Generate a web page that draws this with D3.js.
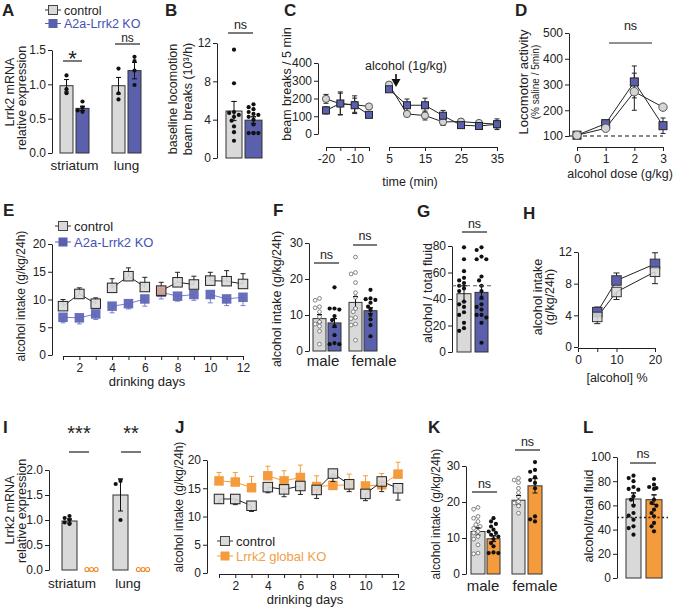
<!DOCTYPE html>
<html><head><meta charset="utf-8">
<script src="https://cdn.jsdelivr.net/npm/d3@7"></script>
<style>body{margin:0;background:#fff}svg{display:block}</style>
</head><body>
<script>
// ================= DATA =================
// Panel A
const aCats = ["striatum", "lung"];
const aCtrlMean = [0.98, 0.98], aCtrlSem = [0.09, 0.12];
const aKoMean = [0.65, 1.2], aKoSem = [0.03, 0.12];
const aCtrlPts = [[1.13, 0.93, 0.87], [1.23, 0.87, 0.78]];
const aKoPts = [[0.75, 0.66, 0.62, 0.6], [1.40, 1.34, 1.2, 0.99]];
const aTicks = [0, 0.5, 1.0, 1.5];
// Panel B
const bCtrlMean = 4.9, bCtrlSem = 1.0, bKoMean = 3.95, bKoSem = 0.35;
const bCtrlPts = [11.3, 7.8, 4.8, 4.7, 4.5, 4.3, 3.9, 3.3, 2.7, 1.8];
const bKoPts = [5.6, 5.3, 5.1, 4.8, 4.6, 4.5, 4.3, 4.0, 3.5, 2.6, 2.6, 2.6, 2.6];
const bTicks = [0, 4, 8, 12];
// Panel C
const cPreT = [-20, -15, -10, -5], cPostT = [5, 10, 15, 20, 25, 30, 35];
const cCtrlPre = [198, 170, 165, 155], cCtrlPreErr = [25, 60, 50, 10];
const cKoPre = [133, 172, 162, 108], cKoPreErr = [20, 65, 40, 10];
const cCtrlPost = [278, 113, 104, 68, 70, 62, 55], cCtrlPostErr = [10, 15, 25, 20, 10, 10, 20];
const cKoPost = [252, 162, 162, 103, 50, 45, 55], cKoPostErr = [10, 35, 40, 30, 15, 15, 30];
const cTicks = [0, 100, 200, 300, 400];
// Panel D
const dDose = [0, 1, 2, 3];
const dCtrl = [103, 130, 272, 212], dCtrlErr = [0, 8, 72, 10];
const dKo = [103, 148, 310, 140], dKoErr = [0, 10, 62, 30];
const dTicks = [100, 200, 300, 400, 500];
// Panel E
const eDays = [1, 2, 3, 4, 5, 6, 7, 8, 9, 10, 11, 12];
const eCtrl = [8.8, 11.0, 9.25, 12.1, 14.2, 12.25, 11.6, 13.1, 12.7, 13.4, 13.3, 12.8];
const eCtrlErr = [1.2, 1.1, 1.05, 1.65, 1.5, 1.75, 1.5, 1.8, 1.5, 1.5, 1.9, 1.85];
const eKo = [6.8, 6.7, 7.4, 8.8, 9.25, 10.1, 11.3, 10.6, 10.9, 10.9, 10.1, 10.4];
const eKoErr = [1.0, 1.1, 1.0, 1.2, 0.95, 1.3, 1.2, 0.9, 1.05, 1.5, 1.2, 1.5];
const eTicks = [0, 5, 10, 15, 20];
// Panel F
const fCats = ["male", "female"];
const fCtrlMean = [9.0, 13.5], fCtrlSem = [1.1, 1.6];
const fKoMean = [7.8, 11.2], fKoSem = [1.2, 0.8];
const fCtrlPts = [[14.6, 14.1, 12.3, 12.0, 10.9, 9.5, 8.1, 7.5, 6.9, 5.5, 1.9],
                  [26.1, 21.8, 21.4, 19.0, 16.2, 14.9, 11.8, 10.9, 9.3, 9.0, 7.5, 7.2, 3.0]];
const fKoPts = [[17.7, 11.8, 11.8, 11.5, 9.7, 8.6, 6.9, 4.4, 2.2, 1.9, 1.9],
                [17.0, 14.6, 14.4, 14.2, 13.4, 12.3, 11.4, 10.0, 8.8, 7.2, 4.1]];
const fTicks = [0, 10, 20, 30];
// Panel G
const gCtrlMean = 44, gCtrlSem = 6, gKoMean = 45, gKoSem = 5;
const gCtrlPts = [79, 70, 61, 56, 54, 52, 50, 48, 46, 38, 36, 34, 30, 28, 22, 18, 16];
const gKoPts = [79, 77, 72, 70, 70, 57, 54, 50, 46, 41, 36, 34, 32, 28, 28, 26, 22, 7];
const gTicks = [0, 20, 40, 60, 80];
// Panel H
const hConc = [5, 10, 20];
const hCtrl = [3.8, 6.95, 9.5], hCtrlErr = [0.85, 0.95, 1.5];
const hKo = [4.4, 8.4, 10.5], hKoErr = [0.65, 0.95, 1.4];
const hTicks = [0, 4, 8, 12];
// Panel I
const iCats = ["striatum", "lung"];
const iCtrlMean = [0.98, 1.5], iCtrlSem = [0.04, 0.32];
const iCtrlPts = [[1.08, 1.04, 1.0, 0.95, 0.92], [1.78, 1.72, 1.0]];
const iKoPts = [[0.01, 0.01, 0.01], [0.01, 0.01, 0.01]];
const iTicks = [0, 0.5, 1.0, 1.5, 2.0];
// Panel J
const jDays = [1, 2, 3, 4, 5, 6, 7, 8, 9, 10, 11, 12];
const jCtrl = [13.1, 13.1, 11.9, 15.2, 14.8, 15.4, 14.7, 17.6, 15.7, 14.0, 16.2, 15.0];
const jCtrlErr = [0.75, 1.0, 1.0, 1.0, 1.3, 1.5, 1.5, 1.4, 1.3, 1.2, 1.8, 2.1];
const jKo = [16.3, 16.1, 15.1, 17.2, 16.3, 16.9, 15.3, 15.5, 15.6, 15.4, 15.6, 17.5];
const jKoErr = [1.5, 1.7, 2.0, 1.7, 1.8, 2.2, 1.9, 1.6, 1.9, 1.8, 2.0, 2.1];
const jTicks = [0, 5, 10, 15, 20];
// Panel K
const kCats = ["male", "female"];
const kCtrlMean = [11.8, 20.5], kCtrlSem = [1.0, 1.3];
const kKoMean = [9.8, 24.5], kKoSem = [0.8, 2.0];
const kCtrlPts = [[18.5, 18.0, 16.0, 15.5, 14.6, 13.7, 13.2, 12.7, 11.8, 11.4, 10.4, 9.7, 8.1, 5.8, 5.6],
                  [26.6, 26.1, 25.4, 23.8, 22.6, 21.5, 20.1, 19.7, 18.9, 16.9]];
const kKoPts = [[15.5, 14.6, 13.9, 13.2, 12.3, 11.8, 11.4, 10.9, 10.4, 9.7, 8.6, 7.7, 6.0, 5.8, 5.8],
                [31.1, 28.9, 28.4, 26.9, 26.1, 25.3, 23.8, 16.0, 15.2, 14.6]];
const kTicks = [0, 10, 20, 30];
// Panel L
const lCtrlMean = 65.3, lCtrlSem = 5, lKoMean = 64.7, lKoSem = 4;
const lCtrlPts = [84.6, 82.6, 80, 75.2, 73.6, 73, 67.5, 64.7, 59.8, 53.7, 51.5, 48.2, 42.7, 41.3, 35.8];
const lKoPts = [81.8, 77.1, 75.2, 74.4, 73.6, 64.7, 62, 59.8, 56.5, 53.7, 51, 45.5, 42.7, 38.6];
const lTicks = [0, 20, 40, 60, 80, 100];

// ================= STYLE =================
const FONT = "'Liberation Sans', Arial, sans-serif";
const GREY = "#d9d9d9", BLUE = "#5a60ab", ORANGE = "#f39b3d";
const BLUE_TXT = "#4353b4", ORANGE_TXT = "#f0a04a", INK = "#222";

const svg = d3.select("body").append("svg").attr("width", 675).attr("height", 609)
  .style("font-family", FONT);

function txt(x, y, s, fs, opt = {}) {
  return svg.append("text").attr("x", x).attr("y", y).attr("font-size", fs)
    .attr("text-anchor", opt.anchor || "start").attr("fill", opt.fill || INK)
    .attr("font-weight", opt.bold ? "bold" : null).text(s);
}
function vtitle(x, cy, s, fs, fill) {
  svg.append("text").attr("transform", `translate(${x},${cy}) rotate(-90)`)
    .attr("text-anchor", "middle").attr("font-size", fs).attr("fill", fill || INK).text(s);
}
function line(x1, y1, x2, y2, stroke, w, dash) {
  return svg.append("line").attr("x1", x1).attr("y1", y1).attr("x2", x2).attr("y2", y2)
    .attr("stroke", stroke || INK).attr("stroke-width", w || 1).attr("stroke-dasharray", dash || null);
}
function styleAxis(g, fs) {
  g.selectAll("text").attr("font-size", fs || 12).attr("fill", INK).attr("font-family", FONT);
  g.selectAll("path.domain").attr("stroke", INK);
  g.selectAll(".tick line").attr("stroke", INK);
}
function yAxis(x, y, ticks, fmt) {
  const g = svg.append("g").attr("transform", `translate(${x},0)`)
    .call(d3.axisLeft(y).tickValues(ticks).tickSize(4).tickSizeOuter(0).tickPadding(2)
      .tickFormat(fmt || (d => d)));
  styleAxis(g);
  return g;
}
function xAxis(yPos, x, ticks, fmt) {
  const g = svg.append("g").attr("transform", `translate(0,${yPos})`)
    .call(d3.axisBottom(x).tickValues(ticks).tickSize(4).tickSizeOuter(0).tickPadding(3)
      .tickFormat(fmt || (d => d)));
  styleAxis(g);
  return g;
}
function swarm(ys, cx, r, half) {
  const placed = [];
  ys.forEach(py => {
    let best = null;
    for (let k = 0; k < 16; k++) {
      const c = k === 0 ? 0 : (k % 2 ? -1 : 1) * Math.ceil(k / 2) * r * 1.15;
      if (Math.abs(c) > half) continue;
      if (placed.every(p => Math.hypot(p.x - (cx + c), p.y - py) >= 2 * r * 0.95)) { best = c; break; }
    }
    if (best === null) best = 0;
    placed.push({ x: cx + best, y: py });
  });
  return placed;
}
function errBar(x, yTop, yBot, cap, color, w) {
  line(x, yTop, x, yBot, color, w || 1);
  if (cap) { line(x - cap, yTop, x + cap, yTop, color, w || 1); line(x - cap, yBot, x + cap, yBot, color, w || 1); }
}
function bar(y, x0, x1, mean, sem, fill, pts, ptType) {
  const base = y(y.domain()[0]);
  if (mean > 0.02) {
    svg.append("rect").attr("x", x0).attr("y", y(mean)).attr("width", x1 - x0)
      .attr("height", base - y(mean)).attr("fill", fill).attr("stroke", "#333").attr("stroke-width", 1);
  }
  const cx = (x0 + x1) / 2;
  if (sem > 0) errBar(cx, y(mean + sem), y(mean - sem), 2.5, "#111", 1);
  const r = ptType === "open" ? 1.9 : (ptType === "orange" ? 2 : 2.1);
  swarm(pts.map(v => y(v)), cx, r, (x1 - x0) / 2 - 1.5).forEach(p => {
    const c = svg.append("circle").attr("cx", p.x).attr("cy", p.y).attr("r", r);
    if (ptType === "open") c.attr("fill", "#fff").attr("stroke", "#666").attr("stroke-width", 0.8);
    else if (ptType === "orange") c.attr("fill", "#fff").attr("stroke", "#ee8a2a").attr("stroke-width", 1.1);
    else c.attr("fill", "#111");
  });
  if (mean > 0.02 && sem > 0) line(cx - 2.5, y(mean + sem), cx + 2.5, y(mean + sem), "#111", 1);
}
function sig(x1, x2, yl, label, fs, ty) {
  line(x1, yl, x2, yl, INK, 1.2);
  txt((x1 + x2) / 2, ty, label, fs, { anchor: "middle" });
}
function square(x, y, s, fill, stroke, sw, op) {
  return svg.append("rect").attr("x", x - s / 2).attr("y", y - s / 2).attr("width", s).attr("height", s)
    .attr("fill", fill).attr("stroke", stroke || "none").attr("stroke-width", sw || 1)
    .attr("fill-opacity", op == null ? 1 : op);
}
function circle(x, y, r, fill, stroke) {
  return svg.append("circle").attr("cx", x).attr("cy", y).attr("r", r).attr("fill", fill)
    .attr("stroke", stroke || "none").attr("stroke-width", 1);
}
function legendItem(x, y, fill, stroke, label, color, lineCol, fs) {
  line(x - 3, y, x + 13, y, lineCol || "#333", 1);
  square(x + 5, y, 9, fill, stroke, 1);
  txt(x + 16, y + 4.5, label, fs || 13, { fill: color });
}
function letter(x, y, s) { txt(x, y, s, 17, { bold: true }); }

// ================= PANEL A =================
(function () {
  letter(2, 16, "A");
  legendItem(48, 10, GREY, "#444", "control", INK, null, 12.5);
  legendItem(48, 23.5, BLUE, "none", "A2a-Lrrk2 KO", BLUE_TXT, BLUE, 12.5);
  const y = d3.scaleLinear().domain([0, 1.5]).range([153, 50]);
  yAxis(52, y, aTicks, d3.format(".1f"));
  const pos = [[60, 73, 76, 89], [112, 125, 128, 141]];
  aCats.forEach((c, i) => {
    const p = pos[i];
    bar(y, p[0], p[1], aCtrlMean[i], aCtrlSem[i], GREY, aCtrlPts[i], "dot");
    bar(y, p[2], p[3], aKoMean[i], aKoSem[i], BLUE, aKoPts[i], "dot");
    txt((p[0] + p[3]) / 2, 170, c, 13.5, { anchor: "middle" });
  });
  sig(63, 82, 61, "*", 22, 66);
  sig(115, 140, 44, "ns", 12, 41.5);
  vtitle(14, 92, "Lrrk2 mRNA", 12.5);
  vtitle(26, 98, "relative expression", 12.5);
})();

// ================= PANEL B =================
(function () {
  letter(165, 16, "B");
  const y = d3.scaleLinear().domain([0, 12]).range([158, 43]);
  yAxis(217, y, bTicks);
  bar(y, 226, 242, bCtrlMean, bCtrlSem, GREY, bCtrlPts, "dot");
  bar(y, 245, 262, bKoMean, bKoSem, BLUE, bKoPts, "dot");
  sig(228, 253, 33, "ns", 12.5, 29);
  vtitle(177, 99, "baseline locomotion", 12.5);
  vtitle(192, 99, "beam breaks (10³/h)", 12.5);
})();

// ================= PANEL C =================
(function () {
  letter(284, 16, "C");
  const y = d3.scaleLinear().domain([0, 400]).range([134, 63]);
  yAxis(318, y, cTicks);
  const xL = d3.scaleLinear().domain([-20, -5]).range([326, 369]);
  const xR = d3.scaleLinear().domain([5, 35]).range([389, 497]);
  xAxis(147, xL, cPreT, d => (d === -20 || d === -10) ? d : "");
  xAxis(147, xR, [5, 15, 25, 35]);
  txt(410, 186, "time (min)", 12.5, { anchor: "middle" });
  vtitle(291, 84, "beam breaks / 5 min", 12.5);
  // arrow + label
  txt(406, 70, "alcohol (1g/kg)", 12.5, { anchor: "middle" });
  line(396, 74, 396, 81, "#111", 1.6);
  svg.append("path").attr("d", "M391.5,79 L400.5,79 L396,87 Z").attr("fill", "#111");
  function series(xs, x, vals, errs) {
    const pts = xs.map((t, i) => [x(t), y(vals[i])]);
    xs.forEach((t, i) => { if (errs[i] > 0) errBar(x(t), y(vals[i] + errs[i]), y(vals[i] - errs[i]), 2.5, "#222", 1); });
    svg.append("path").attr("d", d3.line()(pts)).attr("fill", "none").attr("stroke", "#222").attr("stroke-width", 1);
    return pts;
  }
  const a = series(cPreT, xL, cCtrlPre, cCtrlPreErr), b = series(cPostT, xR, cCtrlPost, cCtrlPostErr);
  const c = series(cPreT, xL, cKoPre, cKoPreErr), d = series(cPostT, xR, cKoPost, cKoPostErr);
  a.concat(b).forEach(p => circle(p[0], p[1], 3.6, "#d4d4d4", "#555"));
  c.concat(d).forEach(p => square(p[0], p[1], 7, BLUE, "#222", 1));
})();

// ================= PANEL D =================
(function () {
  letter(515, 16, "D");
  const y = d3.scaleLinear().domain([100, 500]).range([136, 33]);
  yAxis(569, y, dTicks);
  const x = d3.scaleLinear().domain([0, 3]).range([577, 663]);
  xAxis(147, x, dDose);
  txt(620, 178, "alcohol dose (g/kg)", 12.5, { anchor: "middle" });
  line(569, y(100), 663, y(100), "#111", 1.2, "4,3");
  sig(609, 652, 43, "ns", 12.5, 30);
  vtitle(528, 82, "Locomotor activity", 13);
  vtitle(539, 82, "(% saline / 5min)", 10);
  const c = dDose.map((t, i) => [x(t), y(dCtrl[i])]);
  const k = dDose.map((t, i) => [x(t), y(dKo[i])]);
  dDose.forEach((t, i) => {
    if (dKoErr[i] > 0) errBar(x(t), y(dKo[i] + dKoErr[i]), y(dKo[i] - dKoErr[i]), 2.5, "#222");
    if (dCtrlErr[i] > 0) errBar(x(t), y(dCtrl[i] + dCtrlErr[i]), y(dCtrl[i] - dCtrlErr[i]), 2.5, "#222");
  });
  svg.append("path").attr("d", d3.line()(k)).attr("fill", "none").attr("stroke", "#222");
  svg.append("path").attr("d", d3.line()(c)).attr("fill", "none").attr("stroke", "#222");
  k.forEach(p => square(p[0], p[1], 8, BLUE, "#222"));
  c.forEach(p => circle(p[0], p[1], 4.2, "#d4d4d4", "#555"));
})();

// ================= PANEL E =================
(function () {
  letter(3, 216, "E");
  legendItem(58, 226, GREY, "#444", "control", INK);
  legendItem(58, 242, BLUE, "none", "A2a-Lrrk2 KO", BLUE_TXT, BLUE);
  const y = d3.scaleLinear().domain([0, 20]).range([355, 244]);
  yAxis(52, y, eTicks);
  const x = d3.scaleLinear().domain([1, 12]).range([63, 243]);
  xAxis(356, x, eDays, d => d % 2 === 0 ? d : "");
  txt(147, 386, "drinking days", 13, { anchor: "middle" });
  vtitle(25, 296, "alcohol intake (g/kg/24h)", 12);
  const groups = [0, 1, 2, 3];
  groups.forEach(g => {
    const idx = eDays.map((d, i) => i).filter(i => Math.floor((eDays[i] - 1) / 3) === g);
    svg.append("path").attr("d", d3.line()(idx.map(i => [x(eDays[i]), y(eKo[i])])))
      .attr("fill", "none").attr("stroke", "#7a80c4").attr("stroke-width", 1);
    svg.append("path").attr("d", d3.line()(idx.map(i => [x(eDays[i]), y(eCtrl[i])])))
      .attr("fill", "none").attr("stroke", "#222").attr("stroke-width", 1);
  });
  eDays.forEach((d, i) => {
    errBar(x(d), y(eKo[i]), y(eKo[i] - eKoErr[i]), 0, "#7a80c4");
    line(x(d) - 2.5, y(eKo[i] - eKoErr[i]), x(d) + 2.5, y(eKo[i] - eKoErr[i]), "#7a80c4");
    square(x(d), y(eKo[i]), 9.5, "#5f66b6", "none", 1, 0.95);
  });
  eDays.forEach((d, i) => {
    line(x(d), y(eCtrl[i]), x(d), y(eCtrl[i] + eCtrlErr[i]), "#222");
    line(x(d) - 2.5, y(eCtrl[i] + eCtrlErr[i]), x(d) + 2.5, y(eCtrl[i] + eCtrlErr[i]), "#222");
    square(x(d), y(eCtrl[i]), 9.5, d === 7 ? "#d6a898" : GREY, "#222", 1, 0.9);
  });
})();

// ================= PANEL F =================
(function () {
  letter(273, 216, "F");
  const y = d3.scaleLinear().domain([0, 30]).range([351, 243]);
  yAxis(309, y, fTicks);
  const pos = [[313, 326, 328, 341], [349, 362, 364, 377]];
  const lblX = [323, 374];
  fCats.forEach((c, i) => {
    const p = pos[i];
    bar(y, p[0], p[1], fCtrlMean[i], fCtrlSem[i], GREY, fCtrlPts[i], "open");
    bar(y, p[2], p[3], fKoMean[i], fKoSem[i], BLUE, fKoPts[i], "dot");
    txt(lblX[i], 366, c, 15, { anchor: "middle" });
  });
  sig(314, 339, 263, "ns", 12.5, 259);
  sig(353, 377, 245, "ns", 12.5, 240);
  vtitle(281, 299, "alcohol intake (g/kg/24h)", 12.5);
})();

// ================= PANEL G =================
(function () {
  letter(417, 217, "G");
  const y = d3.scaleLinear().domain([0, 80]).range([352, 246]);
  yAxis(452, y, gTicks);
  bar(y, 457, 471, gCtrlMean, gCtrlSem, GREY, gCtrlPts, "dot");
  bar(y, 475, 488, gKoMean, gKoSem, BLUE, gKoPts, "dot");
  line(452, y(50), 493, y(50), "#555", 1.2, "4,3");
  sig(462, 487, 232, "ns", 12.5, 228);
  vtitle(432, 293, "alcohol / total fluid", 12.5);
})();

// ================= PANEL H =================
(function () {
  letter(523, 219, "H");
  const y = d3.scaleLinear().domain([0, 12]).range([347, 252]);
  yAxis(578, y, hTicks);
  const x = d3.scaleLinear().domain([0, 20]).range([578, 655]);
  xAxis(348, x, [0, 5, 10, 20], d => d === 5 ? "" : d);
  txt(617, 382, "[alcohol] %", 12.5, { anchor: "middle" });
  vtitle(542, 297, "alcohol intake", 12.5);
  vtitle(554, 297, "(g/kg/24h)", 12.5);
  const k = hConc.map((t, i) => [x(t), y(hKo[i])]);
  const c = hConc.map((t, i) => [x(t), y(hCtrl[i])]);
  hConc.forEach((t, i) => {
    errBar(x(t), y(hKo[i] + hKoErr[i]), y(hKo[i]), 0, "#222");
    line(x(t) - 3, y(hKo[i] + hKoErr[i]), x(t) + 3, y(hKo[i] + hKoErr[i]), "#222");
    errBar(x(t), y(hCtrl[i]), y(hCtrl[i] - hCtrlErr[i]), 0, "#222");
    line(x(t) - 3, y(hCtrl[i] - hCtrlErr[i]), x(t) + 3, y(hCtrl[i] - hCtrlErr[i]), "#222");
  });
  svg.append("path").attr("d", d3.line()(k)).attr("fill", "none").attr("stroke", "#222");
  svg.append("path").attr("d", d3.line()(c)).attr("fill", "none").attr("stroke", "#222");
  k.forEach(p => square(p[0], p[1], 9.5, BLUE, "#333"));
  c.forEach(p => square(p[0], p[1], 9.5, "#d8d8d8", "#333", 1, 0.85));
})();

// ================= PANEL I =================
(function () {
  letter(3, 433, "I");
  const y = d3.scaleLinear().domain([0, 2]).range([570, 470]);
  yAxis(49, y, iTicks, d3.format(".1f"));
  const pos = [[62, 77, 84, 99], [113, 128, 135, 151]];
  const lblX = [72, 128];
  iCats.forEach((c, i) => {
    const p = pos[i];
    bar(y, p[0], p[1], iCtrlMean[i], iCtrlSem[i], GREY, iCtrlPts[i], "dot");
    bar(y, p[2], p[3], 0, 0, ORANGE, iKoPts[i], "orange");
    txt(lblX[i], 588, c, 13.5, { anchor: "middle" });
  });
  sig(69, 89, 452, "***", 20, 440);
  sig(121, 141, 452, "**", 20, 440);
  vtitle(14, 510, "Lrrk2 mRNA", 12.5);
  vtitle(26, 511, "relative expression", 12.5);
})();

// ================= PANEL J =================
(function () {
  letter(175, 433, "J");
  const y = d3.scaleLinear().domain([0, 20]).range([573, 460]);
  yAxis(207, y, jTicks);
  const x = d3.scaleLinear().domain([1, 12]).range([219, 398]);
  xAxis(574, x, jDays, d => d % 2 === 0 ? d : "");
  txt(305, 604, "drinking days", 13, { anchor: "middle" });
  vtitle(183, 507, "alcohol intake (g/kg/24h)", 12);
  [0, 1, 2, 3].forEach(g => {
    const idx = jDays.map((d, i) => i).filter(i => Math.floor((jDays[i] - 1) / 3) === g);
    svg.append("path").attr("d", d3.line()(idx.map(i => [x(jDays[i]), y(jKo[i])])))
      .attr("fill", "none").attr("stroke", ORANGE).attr("stroke-width", 1);
  });
  jDays.forEach((d, i) => {
    line(x(d), y(jKo[i]), x(d), y(jKo[i] + jKoErr[i]), ORANGE);
    line(x(d) - 2.5, y(jKo[i] + jKoErr[i]), x(d) + 2.5, y(jKo[i] + jKoErr[i]), ORANGE);
    square(x(d), y(jKo[i]), 9.5, ORANGE, "none");
  });
  [0, 1, 2, 3].forEach(g => {
    const idx = jDays.map((d, i) => i).filter(i => Math.floor((jDays[i] - 1) / 3) === g);
    svg.append("path").attr("d", d3.line()(idx.map(i => [x(jDays[i]), y(jCtrl[i])])))
      .attr("fill", "none").attr("stroke", "#222").attr("stroke-width", 1);
  });
  jDays.forEach((d, i) => {
    line(x(d), y(jCtrl[i]), x(d), y(jCtrl[i] - jCtrlErr[i]), "#222");
    line(x(d) - 2.5, y(jCtrl[i] - jCtrlErr[i]), x(d) + 2.5, y(jCtrl[i] - jCtrlErr[i]), "#222");
    square(x(d), y(jCtrl[i]), 9.5, GREY, "#222", 1, 0.9);
  });
  legendItem(220, 541, GREY, "#444", "control", INK);
  legendItem(220, 556, ORANGE, "none", "Lrrk2 global KO", ORANGE_TXT, ORANGE);
})();

// ================= PANEL K =================
(function () {
  letter(428, 433, "K");
  const y = d3.scaleLinear().domain([0, 30]).range([574, 466]);
  yAxis(466, y, kTicks);
  const pos = [[471, 485, 487, 500], [512, 525, 528, 542]];
  const lblX = [483, 535];
  kCats.forEach((c, i) => {
    const p = pos[i];
    bar(y, p[0], p[1], kCtrlMean[i], kCtrlSem[i], GREY, kCtrlPts[i], "open");
    bar(y, p[2], p[3], kKoMean[i], kKoSem[i], ORANGE, kKoPts[i], "dot");
    txt(lblX[i], 591, c, 15, { anchor: "middle" });
  });
  sig(472, 497, 492, "ns", 12.5, 488);
  sig(515, 540, 450, "ns", 12.5, 446);
  vtitle(440, 514, "alcohol intake (g/kg/24h)", 12);
})();

// ================= PANEL L =================
(function () {
  letter(583, 433, "L");
  const y = d3.scaleLinear().domain([0, 100]).range([578, 457]);
  yAxis(617, y, lTicks);
  bar(y, 626, 641, lCtrlMean, lCtrlSem, GREY, lCtrlPts, "dot");
  bar(y, 646, 662, lKoMean, lKoSem, ORANGE, lKoPts, "dot");
  line(617, y(50), 668, y(50), "#222", 1.5, "2,2.5");
  sig(630, 656, 463, "ns", 12.5, 458);
  vtitle(593, 516, "alcohol/total fluid", 12.5);
})();
</script>
</body></html>
